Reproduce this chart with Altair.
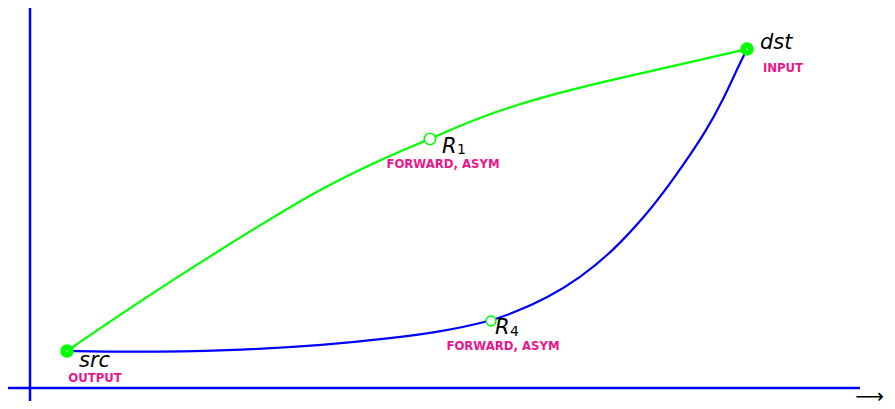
import altair as alt
import pandas as pd

# ---- data (page pixel coordinates) ----
green_x = [67, 127, 193, 260, 327, 393, 430, 487, 553, 620, 687, 747]
green_y = [351, 310, 267, 225, 185, 154, 139, 114, 94, 78, 63, 49]

blue_x = [67, 127, 227, 327, 393, 440, 491, 513, 547, 580, 613, 647, 673, 707, 723, 740, 747]
blue_y = [351, 352, 351, 345, 338, 332, 321, 313, 298, 278, 251, 214, 180, 130, 100, 63, 49]

node_names = ["src", "R1", "R4", "dst"]
node_x = [67, 430, 491, 747]
node_y = [351, 139, 321, 49]
node_kind = ["end", "mid", "mid", "end"]

name_text = ["src", "dst", "R", "R"]
name_x = [79, 760, 442, 495]
name_y = [367, 49, 153, 334]

sub_text = ["1", "4"]
sub_x = [457, 510]
sub_y = [153.5, 336]

tag_text = ["OUTPUT", "INPUT", "FORWARD, ASYM", "FORWARD, ASYM"]
tag_x = [95, 783, 443, 503]
tag_y = [382, 72, 167.5, 350]

axis_x = [30, 8]
axis_x2 = [30, 860]
axis_y = [8, 388]
axis_y2 = [401, 388]

arrow_text = ["\u27f6"]
arrow_x = [884]
arrow_y = [397]

W, H = 879, 393
xs = alt.Scale(domain=[8, 8 + W], nice=False, zero=False)
ys = alt.Scale(domain=[8, 8 + H], nice=False, zero=False, reverse=True)
FONT = "DejaVu Sans"

curves = pd.concat([
    pd.DataFrame({"x": green_x, "y": green_y, "curve": "green"}),
    pd.DataFrame({"x": blue_x, "y": blue_y, "curve": "blue"}),
])
nodes = pd.DataFrame({"x": node_x, "y": node_y, "name": node_names, "kind": node_kind})
names = pd.DataFrame({"x": name_x, "y": name_y, "t": name_text})
subs = pd.DataFrame({"x": sub_x, "y": sub_y, "t": sub_text})
tags = pd.DataFrame({"x": tag_x, "y": tag_y, "t": tag_text})
axes_df = pd.DataFrame({"x": axis_x, "x2": axis_x2, "y": axis_y, "y2": axis_y2})
arrow = pd.DataFrame({"x": arrow_x, "y": arrow_y, "t": arrow_text})

X = alt.X("x:Q", scale=xs, axis=None)
Y = alt.Y("y:Q", scale=ys, axis=None)

axes_layer = alt.Chart(axes_df).mark_rule(color="#0000ff", strokeWidth=2.5).encode(
    x=X, x2="x2:Q", y=Y, y2="y2:Q")

line_layer = alt.Chart(curves).mark_line(interpolate="basis", strokeWidth=2.2).encode(
    x=X, y=Y,
    color=alt.Color("curve:N", scale=alt.Scale(domain=["green", "blue"], range=["#00ff00", "#0000ff"]), legend=None),
    detail="curve:N",
    order=alt.Order("x:Q"),
)

end_layer = alt.Chart(nodes).transform_filter(alt.datum.kind == "end").mark_circle(
    size=185, color="#00ff00", opacity=1).encode(x=X, y=Y)
end_dot = alt.Chart(nodes).transform_filter(alt.datum.kind == "end").mark_circle(
    size=3, color="white", opacity=1).encode(x=X, y=Y)
mid_layer = alt.Chart(nodes).transform_filter(alt.datum.kind == "mid").mark_point(
    shape="circle", filled=False, fill="white", fillOpacity=1, stroke="#00ff00", strokeWidth=1.6,
    opacity=1).encode(x=X, y=Y,
                      size=alt.condition(alt.datum.name == "R1", alt.value(130), alt.value(95)))

name_layer = alt.Chart(names).mark_text(font=FONT, fontSize=21, fontStyle="italic", align="left",
                                        baseline="alphabetic", color="black").encode(x=X, y=Y, text="t:N")
sub_layer = alt.Chart(subs).mark_text(font=FONT, fontSize=14, align="left",
                                      baseline="alphabetic", color="black").encode(x=X, y=Y, text="t:N")
tag_layer = alt.Chart(tags).mark_text(font=FONT, fontSize=11.7, fontWeight="bold", align="center",
                                      baseline="alphabetic", color="#e8178a").encode(x=X, y=Y, text="t:N")
arrow_layer = alt.Chart(arrow).mark_text(font=FONT, fontSize=20, align="right",
                                         baseline="middle", color="black").encode(x=X, y=Y, text="t:N")

chart = alt.layer(
    axes_layer, line_layer, end_layer, end_dot, mid_layer,
    name_layer, sub_layer, tag_layer, arrow_layer,
).properties(
    width=W, height=H, autosize=alt.AutoSizeParams(type="none"), padding=0,
).configure_view(stroke=None)

chart.save("out.html", embed_options={"renderer": "svg", "actions": False})
